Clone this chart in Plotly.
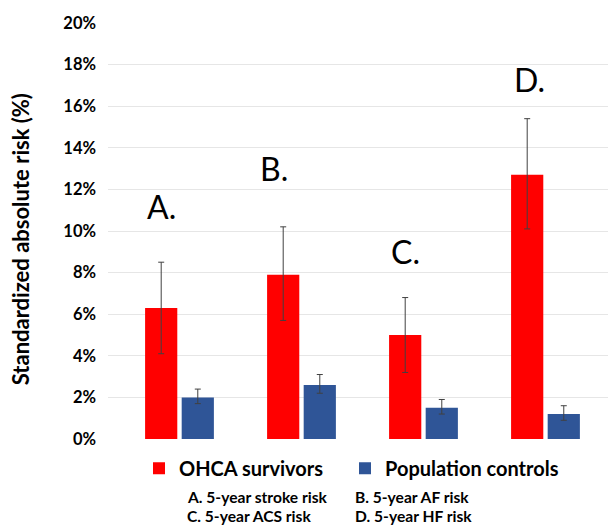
import plotly.graph_objects as go

categories = [0, 1, 2, 3]
group_labels = ["A.", "B.", "C.", "D."]
ohca = [6.3, 7.9, 5.0, 12.7]
ohca_lo = [4.1, 5.7, 3.2, 10.1]
ohca_hi = [8.5, 10.2, 6.8, 15.4]
ctrl = [2.0, 2.6, 1.5, 1.2]
ctrl_lo = [1.7, 2.2, 1.2, 0.9]
ctrl_hi = [2.4, 3.1, 1.9, 1.6]
yticks = [0, 2, 4, 6, 8, 10, 12, 14, 16, 18, 20]
ytick_text = ["0%", "2%", "4%", "6%", "8%", "10%", "12%", "14%", "16%", "18%", "20%"]
y_title = "Standardized absolute risk (%)"
notes_left = ["A. 5-year stroke risk", "C. 5-year ACS risk"]
notes_right = ["B. 5-year AF risk", "D. 5-year HF risk"]

FONT = "Lato"
OFF = 8  # page body margin
W, H = 616 - OFF, 525 - OFF
PLOT_L = 108 - OFF
PLOT_T = 22.7 - OFF
PLOT_B = 438.7 - OFF
PLOT_W = W - PLOT_L
PLOT_H = PLOT_B - PLOT_T

def err(v, lo, hi):
    return dict(type="data", symmetric=False,
                array=[h - x for x, h in zip(v, hi)],
                arrayminus=[x - l for x, l in zip(v, lo)],
                color="#404040", thickness=1, width=3)

def py(px):
    return (PLOT_B - (px - OFF)) / PLOT_H

def pxx(px):
    return ((px - OFF) - PLOT_L) / PLOT_W

fig = go.Figure()
fig.add_trace(go.Bar(x=categories, y=ohca, name="OHCA survivors", legend="legend",
                     marker=dict(color="#FF0000", line=dict(width=0)),
                     error_y=err(ohca, ohca_lo, ohca_hi)))
fig.add_trace(go.Bar(x=categories, y=ctrl, name="Population controls", legend="legend2",
                     marker=dict(color="#2F5597", line=dict(width=0)),
                     error_y=err(ctrl, ctrl_lo, ctrl_hi)))

# group letter labels
label_pos = [(-0.15, 11.2), (0.775, 13.0), (1.85, 9.0), (2.87, 17.3)]
for lab, (lx, ly) in zip(group_labels, label_pos):
    fig.add_annotation(x=lx, y=ly, text=lab, showarrow=False,
                       font=dict(family=FONT, size=32, color="#000000"))

for i, (tl, tr) in enumerate(zip(notes_left, notes_right)):
    yc = py(497 + 19 * i)
    fig.add_annotation(xref="paper", yref="paper", x=pxx(185), y=yc,
                       xanchor="left", yanchor="middle", showarrow=False, text=tl,
                       font=dict(family=FONT, size=15.6, color="#000000", weight="bold"))
    fig.add_annotation(xref="paper", yref="paper", x=pxx(353), y=yc,
                       xanchor="left", yanchor="middle", showarrow=False, text=tr,
                       font=dict(family=FONT, size=15.6, color="#000000", weight="bold"))

# y-axis title
fig.add_annotation(xref="paper", yref="paper", x=pxx(20), y=py(239), textangle=-90,
                   xanchor="center", yanchor="middle", showarrow=False, text=y_title,
                   font=dict(family=FONT, size=22, color="#000000", weight="bold"))

leg_common = dict(orientation="v", yanchor="middle", xanchor="left",
                  font=dict(family=FONT, size=20, color="#000000", weight="bold"),
                  itemwidth=30, bgcolor="rgba(0,0,0,0)")

fig.update_layout(
    width=W, height=H,
    margin=dict(l=PLOT_L, r=0, t=PLOT_T, b=H - PLOT_B, autoexpand=False),
    paper_bgcolor="white", plot_bgcolor="white",
    barmode="group", bargap=0.4, bargroupgap=0.12,
    showlegend=True,
    legend=dict(x=pxx(139), y=py(468), **leg_common),
    legend2=dict(x=pxx(345), y=py(468), **leg_common),
    xaxis=dict(range=[-0.586, 3.578], showticklabels=False, showgrid=False,
               zeroline=False, showline=False, ticks=""),
    yaxis=dict(range=[0, 20], tickvals=yticks, ticktext=ytick_text,
               showgrid=True, gridcolor="#E6E6E6", gridwidth=1,
               zeroline=False, showline=False, ticks="",
               ticklabelstandoff=11,
               tickfont=dict(family=FONT, size=16.5, color="#000000", weight="bold")),
)

fig.write_html("out.html")
